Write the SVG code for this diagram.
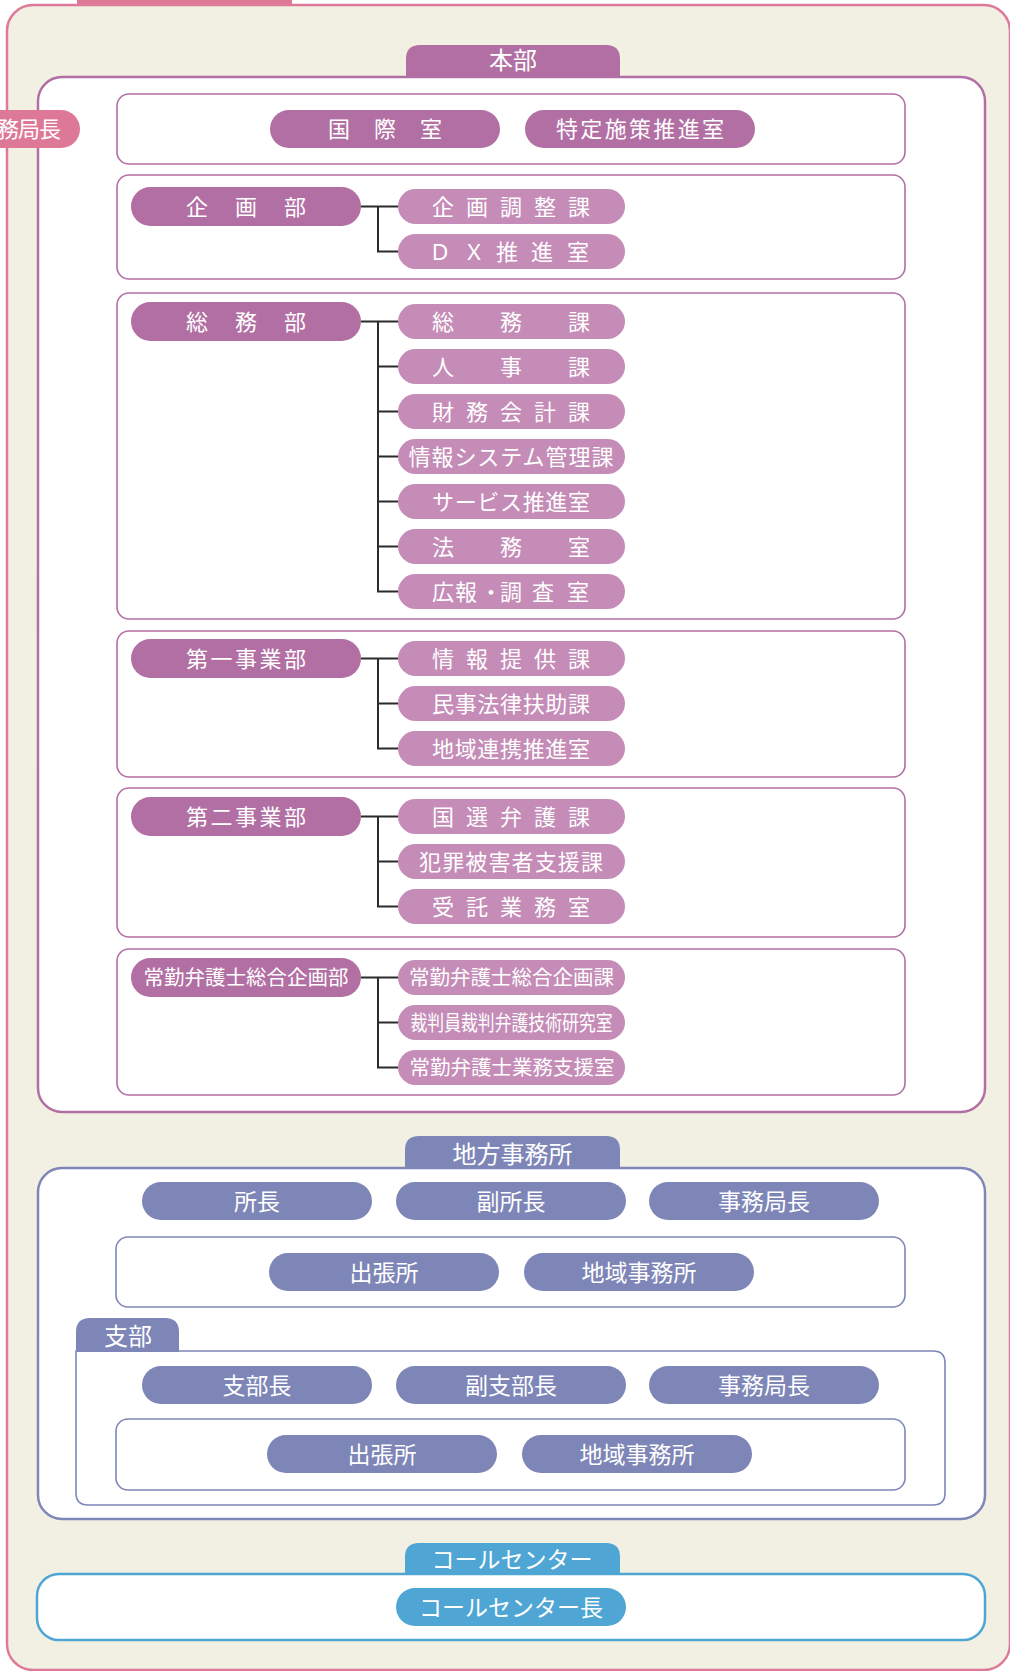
<svg xmlns="http://www.w3.org/2000/svg" width="1010" height="1671" viewBox="0 0 1010 1671">
<style>
.bg{fill:#f2efe3;stroke:#de7a97;stroke-width:2.5}
.boxP{fill:#fff;stroke:#b26fa3;stroke-width:2.5}
.inP{fill:#fff;stroke:#b26fa3;stroke-width:1.6}
.boxB{fill:#fff;stroke:#7f86b8;stroke-width:2.5}
.inB{fill:#fff;stroke:#7f86b8;stroke-width:1.6}
.boxC{fill:#fff;stroke:#4fa6d4;stroke-width:2.5}
.pd{fill:#b26fa3}
.pl{fill:#c48cb7}
.pk{fill:#dd7896}
.pb{fill:#7e86b7}
.pc{fill:#4fa6d4}
.t{font-family:"Noto Sans CJK JP","Noto Sans",sans-serif;font-size:22px;fill:#fff}
.t23{font-family:"Noto Sans CJK JP","Noto Sans",sans-serif;font-size:23px;fill:#fff;text-anchor:middle}
.tab{font-family:"Noto Sans CJK JP","Noto Sans",sans-serif;font-size:24px;fill:#fff;text-anchor:middle}
.m{text-anchor:middle}
.s{font-size:20.5px}
.conn{stroke:#2b2b2b;stroke-width:2;fill:none}
</style>

<g id="background">
<rect x="77" y="-12" width="215" height="17" class="pk"/>
<rect x="7" y="5" width="1003" height="1665" rx="26" class="bg"/>
</g>

<!-- 本部 -->
<g id="honbu">
<rect x="38" y="77" width="947" height="1035" rx="24" class="boxP"/>
<path d="M406,78V59Q406,45 420,45H606Q620,45 620,59V78Z" class="pd"/>
<text x="513" y="69" class="tab">本部</text>
</g>

<g id="jimukyokucho">
<rect x="-40" y="110" width="120" height="38" rx="19" class="pk"/>
<text x="8 29 50" y="137" class="t m">務局長</text>
</g>

<g id="row-office">
<rect x="117" y="94" width="788" height="70" rx="12" class="inP"/>
<g id="kokusai"><rect x="270" y="110" width="230" height="38" rx="19" class="pd"/><text x="339 385 431" y="137" class="t m">国際室</text></g>
<g id="tokutei"><rect x="525" y="110" width="230" height="38" rx="19" class="pd"/><text x="640" y="137" class="t m" textLength="168">特定施策推進室</text></g>
</g>

<g id="kikaku-box"><rect x="117" y="175" width="788" height="104" rx="12" class="inP"/></g>
<g id="somu-box"><rect x="117" y="293" width="788" height="326" rx="12" class="inP"/></g>
<g id="jigyo1-box"><rect x="117" y="631" width="788" height="146" rx="12" class="inP"/></g>
<g id="jigyo2-box"><rect x="117" y="788" width="788" height="149" rx="12" class="inP"/></g>
<g id="jokin-box"><rect x="117" y="949" width="788" height="146" rx="12" class="inP"/></g>

<g id="connectors">
<path class="conn" d="M361,206.5H398M378,206.5V251.5H398"/>
<path class="conn" d="M361,321.5H398M378,321.5V591.5H398M378,366.5H398M378,411.5H398M378,456.5H398M378,501.5H398M378,546.5H398"/>
<path class="conn" d="M361,658.5H398M378,658.5V748.5H398M378,703.5H398"/>
<path class="conn" d="M361,816.5H398M378,816.5V906.5H398M378,861.5H398"/>
<path class="conn" d="M361,977.5H398M378,977.5V1067.5H398M378,1022.5H398"/>
</g>

<!-- 企画部 -->
<g id="kikaku"><rect x="131" y="187" width="230" height="39" rx="19.5" class="pd"/><text x="197 246 295" y="214.5" class="t m">企画部</text></g>
<g id="kikaku-chosei"><rect x="398" y="189" width="227" height="35" rx="17.5" class="pl"/><text x="443 477 511 545 579" y="214.5" class="t m">企画調整課</text></g>
<g id="dx"><rect x="398" y="234" width="227" height="35" rx="17.5" class="pl"/><text x="440 474 507 542 578" y="259.5" class="t m">ＤＸ推進室</text></g>

<!-- 総務部 -->
<g id="somubu"><rect x="131" y="302" width="230" height="39" rx="19.5" class="pd"/><text x="197 246 295" y="329.5" class="t m">総務部</text></g>
<g id="somuka"><rect x="398" y="304" width="227" height="35" rx="17.5" class="pl"/><text x="443 511 579" y="329.5" class="t m">総務課</text></g>
<g id="jinji"><rect x="398" y="349" width="227" height="35" rx="17.5" class="pl"/><text x="443 511 579" y="374.5" class="t m">人事課</text></g>
<g id="zaimu"><rect x="398" y="394" width="227" height="35" rx="17.5" class="pl"/><text x="443 477 511 545 579" y="419.5" class="t m">財務会計課</text></g>
<g id="johosys"><rect x="398" y="439" width="227" height="35" rx="17.5" class="pl"/><text x="511" y="464.5" class="t m" textLength="205">情報システム管理課</text></g>
<g id="service"><rect x="398" y="484" width="227" height="35" rx="17.5" class="pl"/><text x="511" y="509.5" class="t m" textLength="158">サービス推進室</text></g>
<g id="homu"><rect x="398" y="529" width="227" height="35" rx="17.5" class="pl"/><text x="443 511 579" y="554.5" class="t m">法務室</text></g>
<g id="koho"><rect x="398" y="574" width="227" height="35" rx="17.5" class="pl"/><text x="443 466 491 511 543 578" y="599.5" class="t m">広報・調査室</text></g>

<!-- 第一事業部 -->
<g id="jigyo1"><rect x="131" y="639" width="230" height="39" rx="19.5" class="pd"/><text x="246" y="666.5" class="t m" textLength="120">第一事業部</text></g>
<g id="johoteikyo"><rect x="398" y="641" width="227" height="35" rx="17.5" class="pl"/><text x="443 477 511 545 579" y="666.5" class="t m">情報提供課</text></g>
<g id="minji"><rect x="398" y="686" width="227" height="35" rx="17.5" class="pl"/><text x="511" y="711.5" class="t m" textLength="158">民事法律扶助課</text></g>
<g id="chiikirenkei"><rect x="398" y="731" width="227" height="35" rx="17.5" class="pl"/><text x="511" y="756.5" class="t m" textLength="158">地域連携推進室</text></g>

<!-- 第二事業部 -->
<g id="jigyo2"><rect x="131" y="797" width="230" height="39" rx="19.5" class="pd"/><text x="246" y="824.5" class="t m" textLength="120">第二事業部</text></g>
<g id="kokusen"><rect x="398" y="799" width="227" height="35" rx="17.5" class="pl"/><text x="443 477 511 545 579" y="824.5" class="t m">国選弁護課</text></g>
<g id="hanzai"><rect x="398" y="844" width="227" height="35" rx="17.5" class="pl"/><text x="511" y="869.5" class="t m" textLength="184">犯罪被害者支援課</text></g>
<g id="jutaku"><rect x="398" y="889" width="227" height="35" rx="17.5" class="pl"/><text x="443 477 511 545 579" y="914.5" class="t m">受託業務室</text></g>

<!-- 常勤弁護士総合企画部 -->
<g id="jokin"><rect x="131" y="958" width="230" height="39" rx="19.5" class="pd"/><text x="246" y="985" class="t m s">常勤弁護士総合企画部</text></g>
<g id="jokin-kikaku"><rect x="398" y="960" width="227" height="35" rx="17.5" class="pl"/><text x="511.5" y="985" class="t m s">常勤弁護士総合企画課</text></g>
<g id="saibanin"><rect x="398" y="1005" width="227" height="35" rx="17.5" class="pl"/><text x="511.5" y="1030" class="t m" style="font-size:21px" textLength="202" lengthAdjust="spacingAndGlyphs">裁判員裁判弁護技術研究室</text></g>
<g id="jokin-shien"><rect x="398" y="1050" width="227" height="35" rx="17.5" class="pl"/><text x="512" y="1075" class="t m s">常勤弁護士業務支援室</text></g>

<!-- 地方事務所 -->
<g id="chiho">
<rect x="38" y="1168" width="947" height="351" rx="24" class="boxB"/>
<path d="M405,1169V1150Q405,1136 419,1136H606Q620,1136 620,1150V1169Z" class="pb"/>
<text x="512.5" y="1163" class="tab">地方事務所</text>
</g>
<g id="shocho"><rect x="142" y="1182" width="230" height="38" rx="19" class="pb"/><text x="257" y="1209.5" class="t23">所長</text></g>
<g id="fukushocho"><rect x="396" y="1182" width="230" height="38" rx="19" class="pb"/><text x="511" y="1209.5" class="t23">副所長</text></g>
<g id="jimukyokucho-chiho"><rect x="649" y="1182" width="230" height="38" rx="19" class="pb"/><text x="764" y="1209.5" class="t23">事務局長</text></g>
<g id="chiho-inner">
<rect x="116" y="1237" width="789" height="70" rx="12" class="inB"/>
<g id="shutchojo"><rect x="269" y="1253" width="230" height="38" rx="19" class="pb"/><text x="384" y="1280.5" class="t23">出張所</text></g>
<g id="chiikijimusho"><rect x="524" y="1253" width="230" height="38" rx="19" class="pb"/><text x="639" y="1280.5" class="t23">地域事務所</text></g>
</g>

<!-- 支部 -->
<g id="shibu">
<path d="M76,1351H933Q945,1351 945,1363V1493Q945,1505 933,1505H88Q76,1505 76,1493Z" class="inB"/>
<path d="M76,1352V1332Q76,1318 90,1318H165Q179,1318 179,1332V1352Z" class="pb"/>
<text x="128" y="1345" class="tab">支部</text>
</g>
<g id="shibucho"><rect x="142" y="1366" width="230" height="38" rx="19" class="pb"/><text x="257" y="1393.5" class="t23">支部長</text></g>
<g id="fukushibucho"><rect x="396" y="1366" width="230" height="38" rx="19" class="pb"/><text x="511" y="1393.5" class="t23">副支部長</text></g>
<g id="jimukyokucho-shibu"><rect x="649" y="1366" width="230" height="38" rx="19" class="pb"/><text x="764" y="1393.5" class="t23">事務局長</text></g>
<g id="shibu-inner">
<rect x="116" y="1419" width="789" height="71" rx="12" class="inB"/>
<g id="shibu-shutchojo"><rect x="267" y="1435" width="230" height="38" rx="19" class="pb"/><text x="382" y="1462.5" class="t23">出張所</text></g>
<g id="shibu-chiikijimusho"><rect x="522" y="1435" width="230" height="38" rx="19" class="pb"/><text x="637" y="1462.5" class="t23">地域事務所</text></g>
</g>

<!-- コールセンター -->
<g id="callcenter">
<rect x="37" y="1574" width="948" height="66" rx="22" class="boxC"/>
<path d="M405,1575V1557Q405,1543 419,1543H606Q620,1543 620,1557V1575Z" class="pc"/>
<text x="512" y="1568" class="tab" style="font-size:23px">コールセンター</text>
</g>
<g id="callcenter-cho"><rect x="396" y="1588" width="230" height="38" rx="19" class="pc"/><text x="511" y="1615.5" class="t23">コールセンター長</text></g>
</svg>
